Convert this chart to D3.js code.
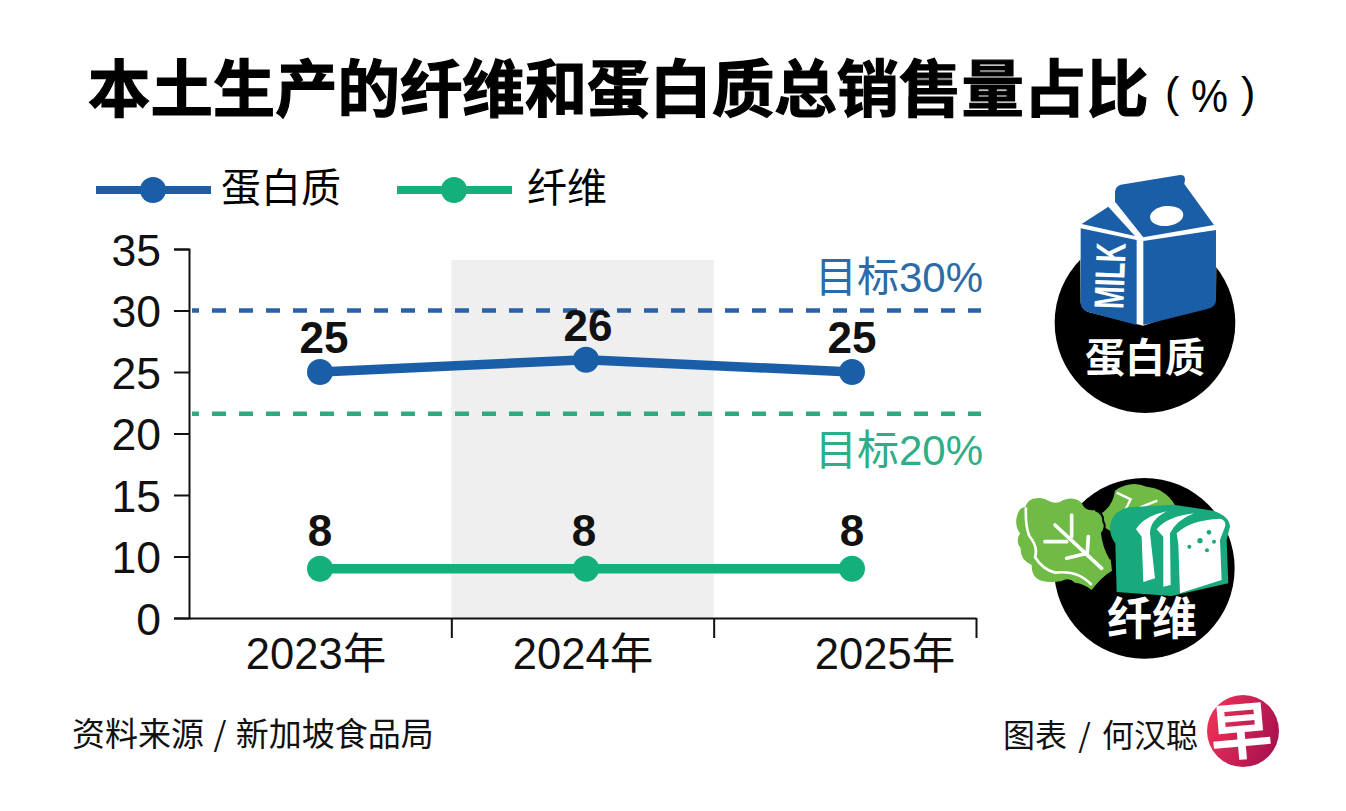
<!DOCTYPE html>
<html>
<head>
<meta charset="utf-8">
<script src="https://cdn.jsdelivr.net/npm/d3@7"></script>
<style>
  html, body { margin: 0; background: #fff; }
  svg { display: block; }
  text { font-family: "Liberation Sans", "Noto Sans CJK SC", sans-serif; }
  .cjk { font-family: "Noto Sans CJK SC", sans-serif; }
</style>
</head>
<body>
<script>
// data
const years = [2023, 2024, 2025];
const protein = [25, 26, 25];
const fibre = [8, 8, 8];
const yTicks = [0, 10, 15, 20, 25, 30, 35]; // the paper's axis skips 5
const proteinTarget = 30;
const fibreTargetDrawn = 21.6; // labelled 20% but drawn here in the original

const width = 1346, height = 811;
const blue = "#1a5ea8", green = "#13b07c";
const blueDash = "#2a62a3", greenDash = "#2fa982";
const blueText = "#2d6aa8", greenText = "#2eae86";

const svg = d3.select("body").append("svg")
    .attr("width", width).attr("height", height)
    .attr("viewBox", [0, 0, width, height]);

const x = d3.scaleLinear().domain([2023, 2025]).range([320, 852]);
const xEdges = d3.scaleLinear().domain([0, 3]).range([189, 976]);
const y = d3.scaleLinear()
    .domain(yTicks)
    .range(yTicks.map((d, i) => 618 - i * 369 / (yTicks.length - 1)));

// title
svg.append("text").attr("class", "cjk")
    .attr("x", 88).attr("y", 112)
    .attr("font-size", 62.4).attr("font-weight", 700)
    .attr("stroke", "#000").attr("stroke-width", 1.2)
    .text("本土生产的纤维和蛋白质总销售量占比");
svg.append("text")
    .attr("x", 1165).attr("y", 107)
    .attr("font-size", 43)
    .text("(");
svg.append("text")
    .attr("x", 1191).attr("y", 112)
    .attr("font-size", 46)
    .attr("textLength", 37).attr("lengthAdjust", "spacingAndGlyphs")
    .text("%");
svg.append("text")
    .attr("x", 1241).attr("y", 107)
    .attr("font-size", 43)
    .text(")");

// legend
const legend = [
  {name: "蛋白质", color: blue, x0: 96, x1: 211, cx: 153, tx: 221},
  {name: "纤维", color: green, x0: 397, x1: 512, cx: 454, tx: 527}
];
legend.forEach(l => {
  svg.append("line").attr("x1", l.x0).attr("x2", l.x1).attr("y1", 190).attr("y2", 190)
      .attr("stroke", l.color).attr("stroke-width", 8);
  svg.append("circle").attr("cx", l.cx).attr("cy", 190).attr("r", 13).attr("fill", l.color);
  svg.append("text").attr("class", "cjk").attr("x", l.tx).attr("y", 202)
      .attr("font-size", 40).attr("font-weight", 400).text(l.name);
});

// 2024 shading
svg.append("rect")
    .attr("x", xEdges(1)).attr("width", xEdges(2) - xEdges(1))
    .attr("y", 260).attr("height", 618 - 260)
    .attr("fill", "#efefef");

// axes
const gy = svg.append("g")
    .attr("transform", "translate(189,0)")
    .call(d3.axisLeft(y).tickValues(yTicks).tickSize(15).tickSizeOuter(15).tickPadding(13));
gy.selectAll("text").attr("font-size", 44.5).attr("font-family", "Liberation Sans").attr("fill", "#111").attr("dy", "0.36em");
gy.selectAll("line, path").attr("stroke", "#111").attr("stroke-width", 2);

const gx = svg.append("g")
    .attr("transform", "translate(0,618)")
    .call(d3.axisBottom(xEdges).tickValues([1, 2, 3]).tickSize(20).tickSizeOuter(0).tickFormat(""));
gx.selectAll("line, path").attr("stroke", "#111").attr("stroke-width", 2);

const yearShift = {2023: -4, 2024: -3, 2025: 33};
svg.selectAll(".year").data(years).join("text")
    .attr("class", "year")
    .attr("x", d => x(d) + yearShift[d]).attr("y", 669)
    .attr("text-anchor", "middle").attr("font-size", 43.5).attr("fill", "#111")
    .text(d => d + "年");

// target lines
[[proteinTarget, blueDash], [fibreTargetDrawn, greenDash]].forEach(([v, c]) => {
  svg.append("line")
      .attr("x1", 192).attr("x2", 981).attr("y1", y(v)).attr("y2", y(v))
      .attr("stroke", c).attr("stroke-width", 4.5)
      .attr("stroke-dasharray", "14 13").attr("stroke-dashoffset", 7);
});
svg.append("text").attr("x", 983).attr("y", 292).attr("text-anchor", "end")
    .attr("font-size", 42).attr("fill", blueText).text("目标30%");
svg.append("text").attr("x", 983).attr("y", 465).attr("text-anchor", "end")
    .attr("font-size", 42).attr("fill", greenText).text("目标20%");

// series
const line = d3.line().x((d, i) => x(years[i])).y(d => y(d));
[[protein, blue, -19, [4, 2, 0]], [fibre, green, -23, [0, -2, 0]]].forEach(([vals, c, dy, dxs]) => {
  svg.append("path").attr("d", line(vals)).attr("fill", "none")
      .attr("stroke", c).attr("stroke-width", 9.5);
  svg.selectAll(null).data(vals).join("circle")
      .attr("cx", (d, i) => x(years[i])).attr("cy", d => y(d))
      .attr("r", 13).attr("fill", c);
  svg.selectAll(null).data(vals).join("text")
      .attr("x", (d, i) => x(years[i]) + dxs[i]).attr("y", d => y(d) + dy)
      .attr("text-anchor", "middle").attr("font-size", 44).attr("font-weight", 700)
      .attr("fill", "#111").text(d => d);
});

// protein icon, sketched in zoomed pixel units
const milk = svg.append("g").attr("transform", "translate(1000,160) scale(0.3333)");
milk.append("circle").attr("cx", 435).attr("cy", 488).attr("r", 271).attr("fill", "#000");
milk.append("path").attr("d", "M240,190L325,130L340,90L555,40L650,195L648,420L430,497L262,455L242,430Z").attr("fill", "#fff");
milk.append("path").attr("fill", blue)
    .attr("d", "M242,205L410,240L410,495L262,455Q242,448 242,428Z");
milk.append("path").attr("fill", blue)
    .attr("d", "M430,243L648,210L648,420Q648,440 625,446L430,495Z");
milk.append("path").attr("fill", blue).attr("d", "M245,192L325,140L405,228Z");
milk.append("path").attr("fill", blue)
    .attr("d", "M345,125L345,95Q347,78 362,74L540,45Q555,44 555,58L553,72L642,195L430,232Z");
milk.append("ellipse").attr("cx", 500).attr("cy", 168).attr("rx", 50).attr("ry", 30)
    .attr("transform", "rotate(-6 500 168)").attr("fill", "#fff");
milk.append("text").attr("transform", "translate(370,448) rotate(-88)")
    .attr("font-size", 126).attr("font-weight", 700).attr("fill", "#fff")
    .attr("textLength", 198).attr("lengthAdjust", "spacingAndGlyphs").text("MILK");
svg.append("text").attr("class", "cjk").attr("x", 1145).attr("y", 372)
    .attr("text-anchor", "middle").attr("font-size", 40).attr("font-weight", 700)
    .attr("fill", "#fff").text("蛋白质");

// fibre icon
const veg = svg.append("g").attr("transform", "translate(1000,470) scale(0.3333)");
veg.append("circle").attr("cx", 433).attr("cy", 295).attr("r", 271).attr("fill", "#000");
const leaf = "#6fbb46", crust = "#18a97c";
veg.append("path").attr("fill", leaf)
    .attr("d", "M305,130Q340,105 345,62Q390,30 440,50Q495,55 525,105L400,120L335,185L310,170Z");
veg.append("path").attr("fill", "none").attr("stroke", "#fff").attr("stroke-width", 7)
    .attr("d", "M350,68L392,88L375,122M420,112L472,92");
veg.append("path").attr("fill", leaf)
    .attr("d", "M75,112Q85,85 110,85Q130,82 145,92Q170,105 190,90Q220,78 245,98Q255,125 285,120Q312,130 310,155Q320,170 306,190Q310,230 332,268L336,302Q305,320 275,360Q250,340 225,338Q205,320 185,333Q150,340 125,332Q95,325 95,285Q60,270 62,235Q45,215 60,190Q42,165 52,135Q60,110 75,112Z");
veg.append("path").attr("fill", "none").attr("stroke", "#000").attr("stroke-width", 6)
    .attr("d", "M285,120Q312,130 310,155Q320,170 306,190Q310,230 332,268");
veg.append("path").attr("fill", "none").attr("stroke", "#fff").attr("stroke-width", 11)
    .attr("stroke-linecap", "round")
    .attr("d", "M165,165L305,295M215,135L215,200M135,215L200,215M265,200L262,245M200,265L262,250");
veg.append("path").attr("fill", "none").attr("stroke", "#fff").attr("stroke-width", 8)
    .attr("d", "M78,112Q75,165 88,198Q115,230 105,262Q130,300 165,308Q235,300 275,345");
veg.append("path").attr("fill", crust)
    .attr("d", "M330,170Q335,125 385,112L520,104L640,122Q690,140 690,170L680,210L685,340L515,378L350,366L346,220Q330,200 330,170Z");
veg.append("path").attr("fill", "#fff")
    .attr("d", "M408,178Q430,140 500,124Q450,150 450,190L465,325L430,336L425,200Z");
veg.append("path").attr("fill", "#fff")
    .attr("d", "M470,178Q500,140 582,130Q530,150 510,190L512,345L490,350L490,200Z");
veg.append("path").attr("fill", "#fff")
    .attr("d", "M530,190Q570,150 660,146Q680,150 675,170L660,210L665,330L540,370L535,222Z");
[[627,187,7],[600,212,8],[642,215,6],[568,230,6],[621,241,6]].forEach(([cx, cy, r]) => {
  veg.append("circle").attr("cx", cx).attr("cy", cy).attr("r", r).attr("fill", crust);
});
svg.append("text").attr("class", "cjk").attr("x", 1152).attr("y", 635)
    .attr("text-anchor", "middle").attr("font-size", 45).attr("font-weight", 700)
    .attr("fill", "#fff").text("纤维");

// footer
svg.append("text").attr("class", "cjk").attr("x", 72).attr("y", 746)
    .attr("font-size", 33).attr("font-weight", 400).attr("fill", "#111")
    .attr("word-spacing", 2)
    .text("资料来源 / 新加坡食品局");
svg.append("text").attr("class", "cjk").attr("x", 1003).attr("y", 747)
    .attr("font-size", 32).attr("font-weight", 400).attr("fill", "#111")
    .attr("word-spacing", 4)
    .text("图表 / 何汉聪");

const grad = svg.append("defs").append("linearGradient").attr("id", "zb")
    .attr("x1", 0).attr("x2", 1).attr("y1", 0.3).attr("y2", 0.7);
grad.append("stop").attr("offset", 0).attr("stop-color", "#ee3158");
grad.append("stop").attr("offset", 1).attr("stop-color", "#a5114f");
svg.append("circle").attr("cx", 1243).attr("cy", 731).attr("r", 36).attr("fill", "url(#zb)");
svg.append("text").attr("class", "cjk")
    .attr("transform", "translate(1243,754) rotate(-5)")
    .attr("text-anchor", "middle").attr("font-size", 62).attr("font-weight", 700)
    .attr("fill", "#fff").text("早");
</script>
</body>
</html>
